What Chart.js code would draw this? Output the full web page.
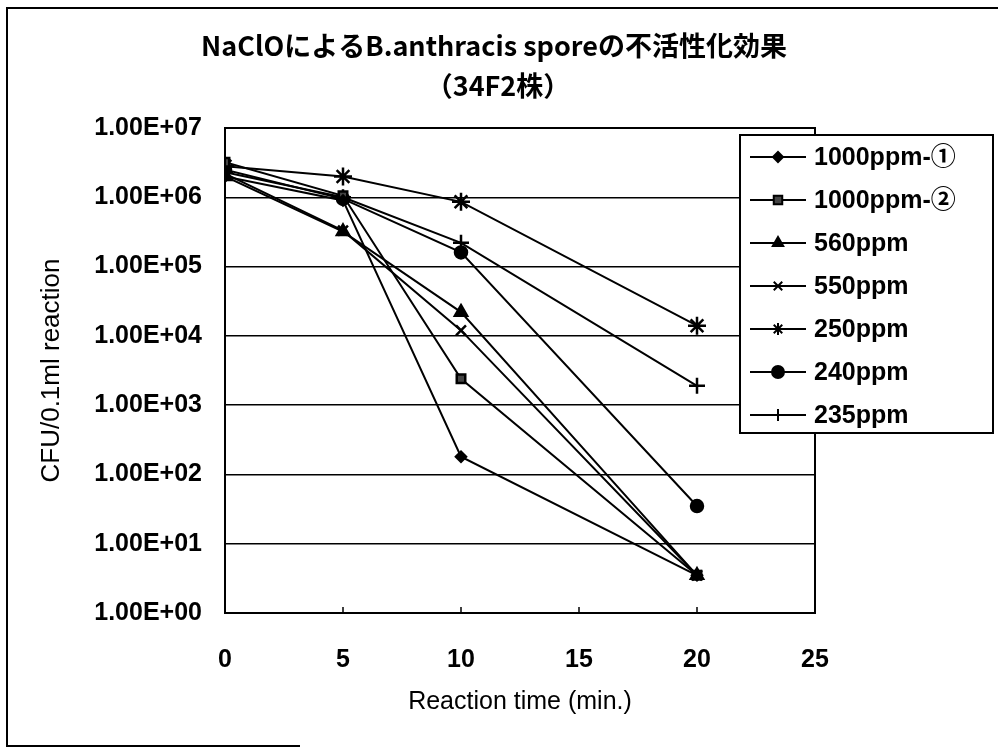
<!DOCTYPE html>
<html>
<head>
<meta charset="utf-8">
<script src="https://cdn.jsdelivr.net/npm/chart.js@4.4.1/dist/chart.umd.min.js"></script>
<style>
  html, body { margin: 0; padding: 0; background: #fff; }
  #wrap { width: 998px; height: 751px; }
</style>
</head>
<body>
<div id="wrap"><canvas id="chart1" width="998" height="751"></canvas></div>
<script>
// Data
const times = [0, 5, 10, 20];
const seriesNames = ['1000ppm-①', '1000ppm-②', '560ppm', '550ppm', '250ppm', '240ppm', '235ppm'];
const s1000a = [2.0e6, 9.0e5, 180, 3.5];
const s1000b = [3.2e6, 1.05e6, 2.4e3, 3.5];
const s560 = [2.0e6, 3.2e5, 2.2e4, 3.5];
const s550 = [2.2e6, 3.3e5, 1.2e4, 3.5];
const s250 = [2.8e6, 2.0e6, 8.6e5, 1.4e4];
const s240 = [2.5e6, 9.5e5, 1.6e5, 35];
const s235 = [2.3e6, 1.0e6, 2.2e5, 1.9e3];
const yTicks = [1, 10, 100, 1e3, 1e4, 1e5, 1e6, 1e7];
const xTicks = [0, 5, 10, 15, 20, 25];

const titleLines = ['NaClOによるB.anthracis sporeの不活性化効果', '（34F2株）'];
const xTitle = 'Reaction time (min.)';
const yTitle = 'CFU/0.1ml reaction';

const FONT = '"Liberation Sans", Arial, "Noto Sans CJK JP", sans-serif';

// marker styles per series
const markers = [
  { pointStyle: 'rectRot', radius: 5, fill: '#000' },
  { pointStyle: 'rect', radius: 6, fill: '#444' },
  { pointStyle: 'triangle', radius: 7, fill: '#000' },
  { pointStyle: 'crossRot', radius: 7, fill: '#000' },
  { pointStyle: 'star', radius: 9, fill: '#000' },
  { pointStyle: 'circle', radius: 6, fill: '#000' },
  { pointStyle: 'cross', radius: 8, fill: '#000' }
];

const allSeries = [s1000a, s1000b, s560, s550, s250, s240, s235];

const datasets = allSeries.map((vals, i) => ({
  label: seriesNames[i],
  data: vals.map((v, j) => ({ x: times[j], y: v })),
  borderColor: '#000',
  backgroundColor: markers[i].fill,
  borderWidth: 2,
  pointStyle: markers[i].pointStyle,
  pointRadius: markers[i].radius,
  pointBorderWidth: 2.5,
  pointBorderColor: '#000',
  pointBackgroundColor: markers[i].fill,
  tension: 0
}));

function sciLabel(v) {
  const e = Math.round(Math.log10(v));
  const m = v / Math.pow(10, e);
  return m.toFixed(2) + 'E' + (e < 0 ? '-' : '+') + String(Math.abs(e)).padStart(2, '0');
}

// frame, title, legend and little axis ticks
const decor = {
  id: 'decor',
  beforeDraw(chart) {
    const ctx = chart.ctx;
    ctx.save();
    ctx.fillStyle = '#fff';
    ctx.fillRect(0, 0, chart.width, chart.height);
    ctx.strokeStyle = '#000';
    ctx.lineWidth = 2;
    ctx.beginPath();
    ctx.moveTo(998, 8);
    ctx.lineTo(7, 8);
    ctx.lineTo(7, 746);
    ctx.lineTo(300, 746);
    ctx.stroke();
    ctx.restore();
  },
  afterDraw(chart) {
    const ctx = chart.ctx;
    const a = chart.chartArea;
    const xs = chart.scales.x;
    ctx.save();
    // plot border
    ctx.strokeStyle = '#000';
    ctx.lineWidth = 2;
    ctx.strokeRect(a.left, a.top, a.right - a.left, a.bottom - a.top);
    // small inner ticks on the x axis
    ctx.lineWidth = 1.5;
    xTicks.slice(1, -1).forEach(t => {
      const px = xs.getPixelForValue(t);
      ctx.beginPath();
      ctx.moveTo(px, a.bottom);
      ctx.lineTo(px, a.bottom - 6);
      ctx.stroke();
    });
    // title
    ctx.fillStyle = '#000';
    ctx.textAlign = 'center';
    ctx.textBaseline = 'middle';
    ctx.font = 'bold 27px "Noto Sans CJK JP", sans-serif';
    ctx.fillText(titleLines[0], 494, 46);
    ctx.fillText(titleLines[1], 498, 86);

    // legend
    const bx = 740, by = 135, bw = 253, bh = 298;
    ctx.fillStyle = '#fff';
    ctx.fillRect(bx, by, bw, bh);
    ctx.strokeStyle = '#000';
    ctx.lineWidth = 2;
    ctx.strokeRect(bx, by, bw, bh);
    ctx.font = 'bold 25px ' + FONT;
    ctx.textAlign = 'left';
    chart.data.datasets.forEach((ds, i) => {
      const y = 157 + i * 43;
      ctx.strokeStyle = '#000';
      ctx.lineWidth = 2;
      ctx.beginPath();
      ctx.moveTo(750, y);
      ctx.lineTo(806, y);
      ctx.stroke();
      ctx.fillStyle = ds.pointBackgroundColor;
      ctx.strokeStyle = '#000';
      Chart.helpers.drawPoint(ctx, {
        pointStyle: ds.pointStyle,
        radius: Math.min(ds.pointRadius, 6),
        rotation: 0,
        borderWidth: 2
      }, 778, y);
      ctx.fillStyle = '#000';
      ctx.fillText(ds.label, 814, y + 1);
    });
    ctx.restore();
  }
};

const config = {
  type: 'line',
  data: { datasets },
  options: {
    responsive: false,
    animation: false,
    layout: { padding: { left: 0, top: 128, right: 183, bottom: 0 } },
    plugins: {
      legend: { display: false },
      title: { display: false },
      tooltip: { enabled: false }
    },
    scales: {
      x: {
        type: 'linear',
        min: 0,
        max: 25,
        afterBuildTicks: s => { s.ticks = xTicks.map(v => ({ value: v })); },
        afterFit: s => { s.height = 138; },
        grid: { display: false, drawTicks: false },
        border: { display: false },
        ticks: {
          padding: 32,
          color: '#000',
          maxRotation: 0,
          font: { family: FONT, size: 25, weight: 'bold' }
        },
        title: {
          display: true,
          text: xTitle,
          color: '#000',
          padding: { top: 0, bottom: 34 },
          font: { family: FONT, size: 25 }
        }
      },
      y: {
        type: 'logarithmic',
        min: 1,
        max: 1e7,
        afterBuildTicks: s => { s.ticks = yTicks.map(v => ({ value: v })); },
        afterFit: s => { s.width = 225; },
        grid: { color: '#000', lineWidth: 1.5, drawTicks: false },
        border: { display: false },
        ticks: {
          padding: 23,
          color: '#000',
          callback: v => sciLabel(v),
          font: { family: FONT, size: 25, weight: 'bold' }
        },
        title: {
          display: true,
          text: yTitle,
          color: '#000',
          padding: { top: 36, bottom: 0 },
          font: { family: FONT, size: 26 }
        }
      }
    }
  },
  plugins: [decor]
};

const myChart = new Chart(document.getElementById('chart1'), config);
</script>
</body>
</html>
